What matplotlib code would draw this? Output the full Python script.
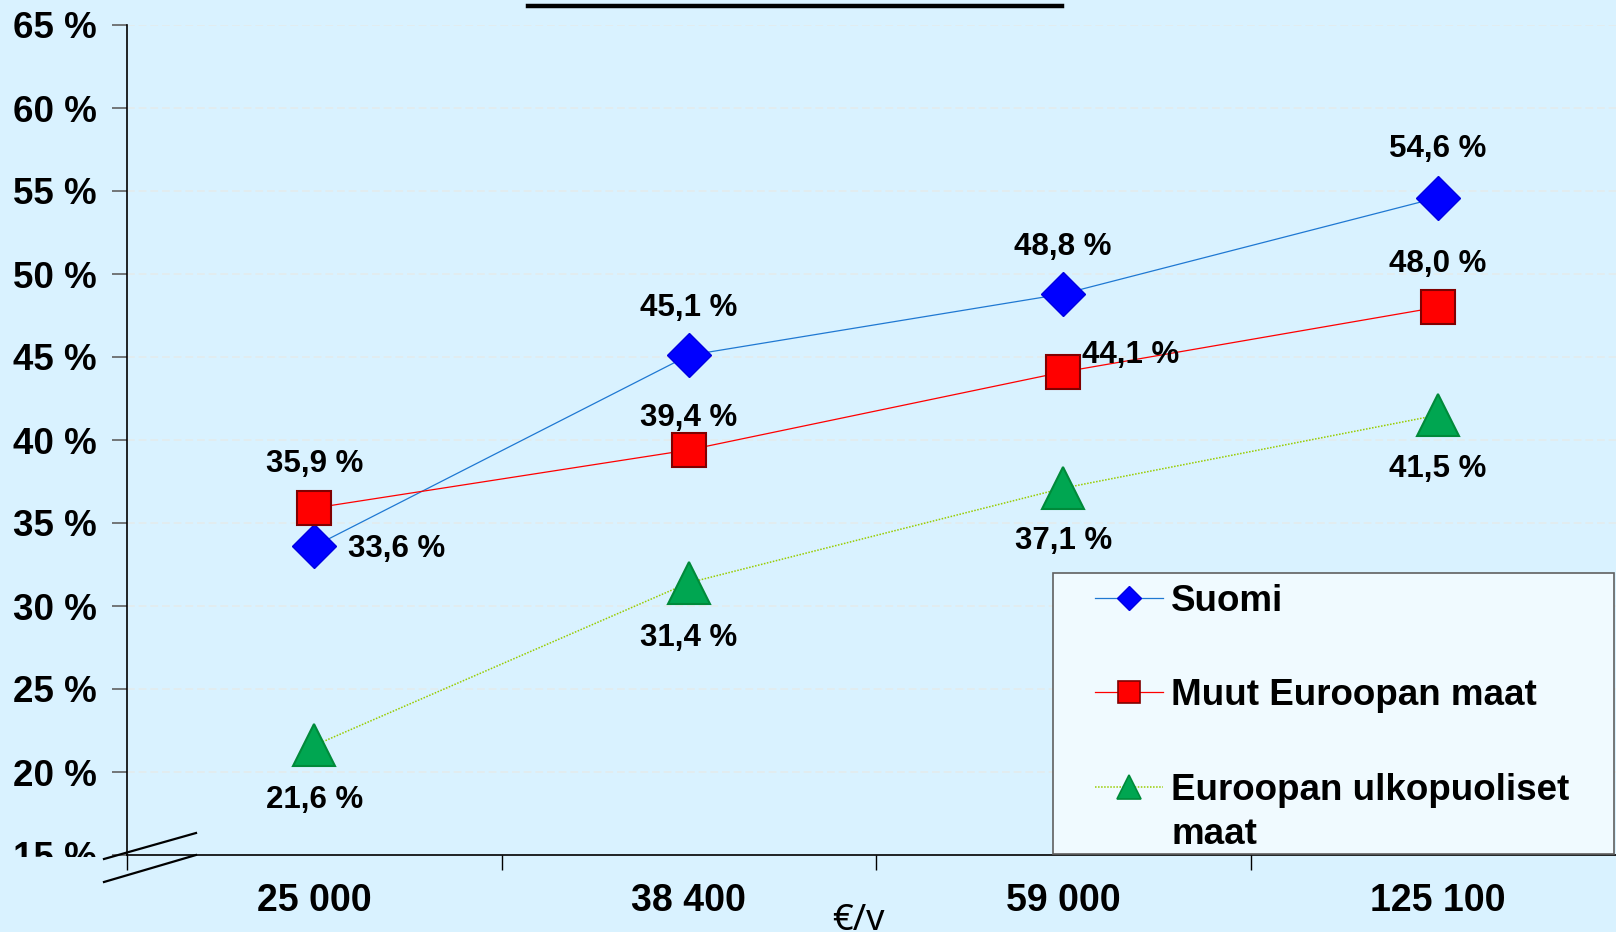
import numpy as np
import matplotlib
matplotlib.use("Agg")
import matplotlib.pyplot as plt
from matplotlib.lines import Line2D
from matplotlib.patches import Rectangle

plt.rcParams["font.family"] = ["Liberation Sans", "DejaVu Sans"]

categories = ["25 000", "38 400", "59 000", "125 100"]
suomi = [33.6, 45.1, 48.8, 54.6]
muut = [35.9, 39.4, 44.1, 48.0]
ulko = [21.6, 31.4, 37.1, 41.5]
series_names = ["Suomi", "Muut Euroopan maat", "Euroopan ulkopuoliset"]
y_ticks = [15, 20, 25, 30, 35, 40, 45, 50, 55, 60, 65]

BG = "#d9f2ff"
W, H = 1616, 932


def fx(px):
    return px / W


def fy(py):
    return 1 - py / H


fig = plt.figure(figsize=(W / 100, H / 100), dpi=100, facecolor=BG)
ax = fig.add_axes([fx(127), fy(855), fx(1625) - fx(127), fy(25) - fy(855)])
ax.set_facecolor(BG)

x = np.arange(len(categories))

ax.plot(x, suomi, color="#1f78d2", lw=0.9, marker="D", ms=22,
        mfc="#0000ff", mec="#0000e0", mew=1, zorder=3)
ax.plot(x, muut, color="#ff0000", lw=0.9, marker="s", ms=25,
        mfc="#ff0000", mec="#800000", mew=1.5, zorder=3)
ax.plot(x, ulko, color="#99cc00", lw=1.1, ls=(0, (1, 1)), marker="^", ms=30,
        mfc="#00a651", mec="#008a3a", mew=1.5, zorder=3)


# data labels: (dx, dy) in pixels, dy positive = downwards
def label(xs, ys, offsets, ha_list=None):
    for i, (xi, yi) in enumerate(zip(xs, ys)):
        dx, dy = offsets[i]
        ha = "center" if ha_list is None else ha_list[i]
        ax.annotate(f"{yi:.1f} %".replace(".", ","), xy=(xi, yi),
                    xytext=(dx * 0.72, -dy * 0.72), textcoords="offset points",
                    ha=ha, va="center", fontsize=22.5, fontweight="bold", zorder=4)


label(x, suomi, [(34, 3), (0, -47), (0, -47), (0, -49)],
      ["left", "center", "center", "center"])
label(x, muut, [(0, -44), (0, -32), (19, -17), (0, -43)],
      ["center", "center", "left", "center"])
label(x, ulko, [(0, 55), (0, 55), (0, 53), (0, 54)])

ax.set_xlim(-0.5, len(categories) - 0.5)
ax.set_ylim(15, 65)
ax.set_yticks(y_ticks)
ax.set_yticklabels([f"{t} %" for t in y_ticks], fontsize=26.5, fontweight="bold")
ax.tick_params(axis="y", length=11, width=1.2, color="#606060", pad=11)

ax.set_xticks(np.arange(len(categories) + 1) - 0.5)
ax.set_xticklabels([])
ax.tick_params(axis="x", which="major", length=11, width=1, color="black")
ax.set_xticks(x, minor=True)
ax.set_xticklabels(categories, minor=True, fontsize=27, fontweight="bold")
ax.tick_params(axis="x", which="minor", length=0, pad=20)

for s in ["top", "right"]:
    ax.spines[s].set_visible(False)
ax.spines["left"].set_linewidth(1.2)
ax.spines["bottom"].set_linewidth(1.2)

ax.yaxis.grid(True, color="#e2ecef", ls=(0, (4, 2)), lw=1.4)
ax.set_axisbelow(True)

# legend
handles = [
    Line2D([], [], color="#1f78d2", lw=0.9, marker="D", ms=12.5, mfc="#0000ff", mec="#0000e0"),
    Line2D([], [], color="#ff0000", lw=0.9, marker="s", ms=16, mfc="#ff0000", mec="#800000", mew=1.2),
    Line2D([], [], color="#99cc00", lw=1.1, ls=(0, (1, 1)), marker="^", ms=17,
           mfc="#00a651", mec="#008a3a", mew=1.2),
]
fig.add_artist(Rectangle((fx(1053), fy(854)), fx(1614) - fx(1053), fy(573) - fy(854),
                         transform=fig.transFigure, facecolor="#f0faff",
                         edgecolor="#606060", lw=1.2, zorder=5))
leg = fig.legend(handles, series_names, loc="upper left",
                 bbox_to_anchor=(fx(1095), fy(584)), bbox_transform=fig.transFigure,
                 frameon=False, borderpad=0, borderaxespad=0, handlelength=1.85,
                 handletextpad=0.22, labelspacing=1.61,
                 prop={"size": 26.5, "weight": "bold"})
leg.set_zorder(6)

# second line of the last legend label
fig.canvas.draw()
tb = leg.get_texts()[2].get_window_extent()
fig.text(tb.x0 / W, (tb.y0 - 44) / H, "maat", ha="left", va="bottom",
         fontsize=26.5, fontweight="bold", zorder=7)

# clip bottom of the lowest tick label and draw axis break
fig.add_artist(Rectangle((0, fy(890)), fx(100), fy(857) - fy(890),
                         transform=fig.transFigure, facecolor=BG, edgecolor="none", zorder=5))
for y0, y1 in [(859, 833), (882, 855)]:
    fig.add_artist(Line2D([fx(104), fx(196)], [fy(y0), fy(y1)], color="black", lw=1.6,
                          transform=fig.transFigure, zorder=6))

# title underline (title itself is outside the visible area)
fig.add_artist(Line2D([fx(528), fx(1062)], [fy(6), fy(6)], color="black", lw=3.2,
                      transform=fig.transFigure))

fig.text(fx(858), fy(930), "€/v", ha="center", va="baseline", fontsize=26,
         family=["Noto Sans", "DejaVu Sans"])

fig.savefig("out.png", dpi=100, facecolor=BG)
